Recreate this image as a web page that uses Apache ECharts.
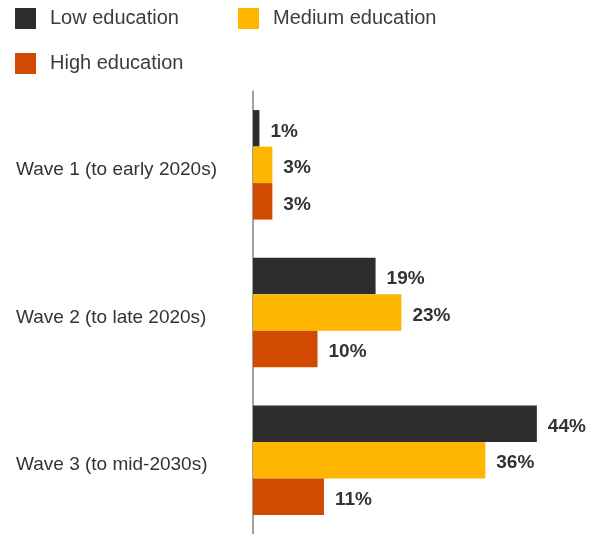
<!DOCTYPE html>
<html><head><meta charset="utf-8">
<script src="https://cdn.jsdelivr.net/npm/echarts@6/dist/echarts.min.js"></script>
<style>html,body{margin:0;padding:0;background:#fff}#c{width:589px;height:534px}</style>
</head><body><div id="c"></div>
<script>
const categories = ['Wave 1 (to early 2020s)', 'Wave 2 (to late 2020s)', 'Wave 3 (to mid-2030s)'];
const seriesNames = ['Low education', 'Medium education', 'High education'];
const lowValues = [1, 19, 44];
const mediumValues = [3, 23, 36];
const highValues = [3, 10, 11];
const colors = ['#2d2d2d', '#ffb600', '#d04a02'];
const font = '"Liberation Sans", Arial, sans-serif';

const chart = echarts.init(document.getElementById('c'));
const legendCommon = {
  orient: 'horizontal', icon: 'rect', itemWidth: 21, itemHeight: 21,
  itemGap: 59, left: 10,
  textStyle: { fontFamily: font, fontSize: 20, color: '#3c3c3c', padding: [0, 0, 0, 9] }
};
function mkSeries(name, data, color) {
  return {
    name, type: 'bar', data, barWidth: 36.5, barGap: '0%',
    itemStyle: { color },
    label: { show: true, position: 'right', distance: 11,
      formatter: p => '{v|' + p.value + '%}',
      rich: { v: { fontFamily: font, fontSize: 19, fontWeight: 'bold', color: '#333', padding: [6, 0, 0, 0] } } },
    animation: false
  };
}
chart.setOption({
  animation: false,
  color: colors,
  legend: [
    Object.assign({}, legendCommon, { data: [seriesNames[0], seriesNames[1]], top: 3 }),
    Object.assign({}, legendCommon, { data: [seriesNames[2]], top: 48 })
  ],
  grid: { left: 253, width: 320, top: 91, height: 449, containLabel: false },
  xAxis: { type: 'value', min: 0, max: 49.6, show: false },
  yAxis: {
    type: 'category', data: categories, inverse: true,
    axisLine: { show: true, lineStyle: { color: '#808080', width: 1.5 } },
    axisTick: { show: false },
    axisLabel: { align: 'left', margin: 237,
      formatter: v => '{c|' + v + '}',
      rich: { c: { fontFamily: font, fontSize: 19, color: '#333', padding: [10, 0, 0, 0] } } }
  },
  series: [
    mkSeries(seriesNames[0], lowValues, colors[0]),
    mkSeries(seriesNames[1], mediumValues, colors[1]),
    mkSeries(seriesNames[2], highValues, colors[2])
  ]
});
</script></body></html>
